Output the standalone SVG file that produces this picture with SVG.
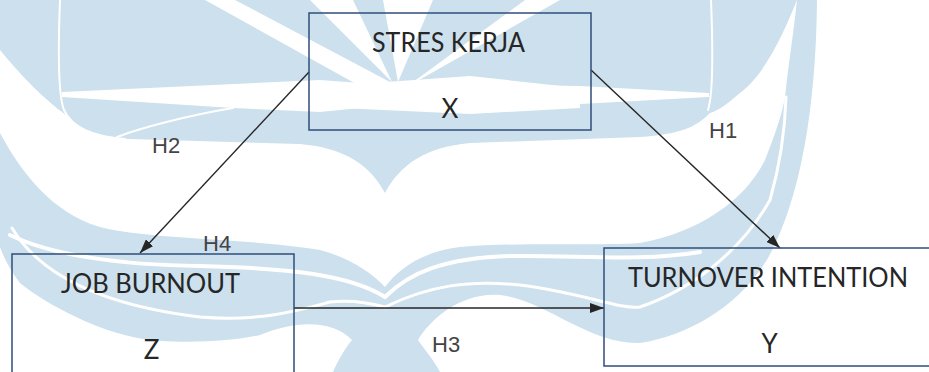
<svg xmlns="http://www.w3.org/2000/svg" width="929" height="372" viewBox="0 0 929 372">
  <defs>
    <style>
      .wm { fill: #cde0ed; }
      .wf { fill: #ffffff; }
      .wl { fill: none; stroke: #ffffff; stroke-linecap: round; }
      .box { fill: none; stroke: #2f4d7a; stroke-width: 1.5; }
      .lbl { font-family: Lato, "Liberation Sans", sans-serif; font-size: 26px; fill: #262626; }
      .h { font-family: "Liberation Sans", Arial, sans-serif; font-size: 22px; fill: #444444; }
      .conn { fill: none; stroke: #262626; stroke-width: 1.4; }
    </style>
    <marker id="ah" viewBox="0 0 14 10" refX="14" refY="5" markerWidth="14" markerHeight="10" markerUnits="userSpaceOnUse" orient="auto">
      <path d="M0,0 L14,5 L0,10 Z" fill="#262626"/>
    </marker>
  </defs>
  <rect x="0" y="0" width="929" height="372" fill="#ffffff"/>

  <g id="watermark">
    <path class="wm" d="M0,0 H797 C785,30 765,75 740,93 C728,103 720,110 710,113 C695,128 680,134 640,137 L470,143 C425,147 400,165 385,193 C370,165 345,148 300,144 L130,139 C100,138 78,130 66,115 C45,100 20,75 0,50 Z"/>
    <path class="wm" d="M0,133 C20,170 50,212 100,227 C150,240 250,238 320,250 C350,258 372,273 385,287 C398,270 420,252 460,247 C520,242 590,246 640,243 C700,232 745,200 765,160 C777,130 783,110 785,97 C789,60 794,30 797,0 L817,0 C816,110 800,200 768,258 C740,305 690,335 640,343 C590,345 545,300 500,295 C460,292 430,320 418,340 C425,350 435,362 440,372 L333,372 C338,360 346,347 352,340 C335,322 300,318 260,335 C230,342 170,345 133,337 C90,328 40,300 20,283 C10,270 4,258 0,247 Z"/>
    <path class="wf" d="M205,0 L235,0 L390,82 L385,100 Z"/>
    <path class="wf" d="M310,0 L353,0 L392,82 Z"/>
    <path class="wf" d="M383,0 L433,0 L398,82 Z"/>
    <path class="wf" d="M525,0 L560,0 L405,88 Z"/>
    <path class="wf" d="M62,92 L320,80 L400,86 L400,104 L320,112 L233,108 L62,97 Z"/>
    <path class="wf" d="M709,93 L580,86 L420,84 L420,104 L580,104 L709,97 Z"/>
    <path class="wf" d="M330,86 L470,76 L580,88 L580,108 L470,114 L340,108 Z"/>
    <path class="wl" stroke-width="2" d="M60,0 C58,50 58,95 64,110 C72,128 95,137 125,139"/>
    <path class="wl" stroke-width="2" d="M711,0 C713,50 713,95 708,110"/>
    <path class="wl" stroke-width="2" d="M117,137 C140,128 190,115 233,108"/>
    <path class="wl" stroke-width="4" d="M10,235 C50,255 120,265 200,266 C290,268 350,275 385,297 C410,272 445,258 510,256 C580,255 640,262 700,252"/>
    <path class="wl" stroke-width="3" d="M12,228 C40,275 100,305 200,317 C260,322 300,310 330,302 C350,300 370,303 385,307 C430,285 470,280 520,285 C580,292 620,310 640,307 C690,290 740,253 770,200 C780,165 785,130 786,97"/>
  </g>

  <g id="connectors">
    <line class="conn" x1="309" y1="72" x2="140" y2="253" marker-end="url(#ah)"/>
    <line class="conn" x1="591" y1="70" x2="780" y2="248" marker-end="url(#ah)"/>
    <line class="conn" x1="294" y1="308" x2="604" y2="308" marker-end="url(#ah)"/>
  </g>

  <g id="node-x">
    <rect class="box" x="309" y="13" width="282" height="117"/>
    <text class="lbl" x="448.5" y="52" text-anchor="middle" textLength="153" lengthAdjust="spacingAndGlyphs">STRES KERJA</text>
    <text class="lbl" x="450" y="118" text-anchor="middle">X</text>
  </g>

  <g id="node-z">
    <rect class="box" x="12" y="254" width="282" height="130"/>
    <text class="lbl" x="150.5" y="293" text-anchor="middle" textLength="179" lengthAdjust="spacingAndGlyphs">JOB BURNOUT</text>
    <text class="lbl" x="151.5" y="359" text-anchor="middle">Z</text>
  </g>

  <g id="node-y">
    <rect class="box" x="604" y="248" width="340" height="118"/>
    <text class="lbl" x="768" y="287" text-anchor="middle" textLength="280" lengthAdjust="spacingAndGlyphs">TURNOVER INTENTION</text>
    <text class="lbl" x="769.5" y="353" text-anchor="middle">Y</text>
  </g>

  <g id="labels">
    <text class="h" x="152" y="153">H2</text>
    <text class="h" x="709" y="138">H1</text>
    <text class="h" x="203" y="251">H4</text>
    <text class="h" x="432" y="352">H3</text>
  </g>
</svg>
